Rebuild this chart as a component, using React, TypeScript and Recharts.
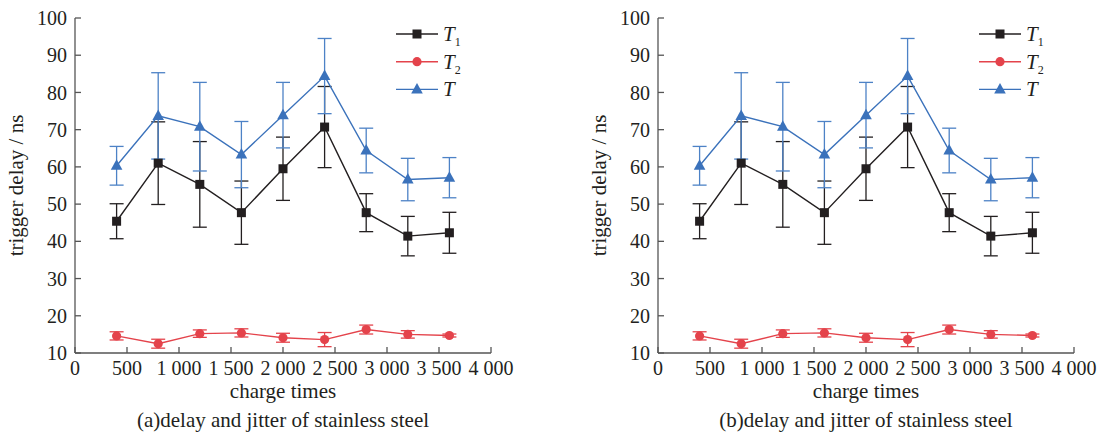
import React from 'react';
import { LineChart, Line, XAxis, YAxis, ErrorBar } from 'recharts';

const chargeTimes = [400, 800, 1200, 1600, 2000, 2400, 2800, 3200, 3600];
const t1Values = [45.4, 61.0, 55.3, 47.7, 59.5, 70.7, 47.7, 41.4, 42.3];
const t1Errors = [4.7, 11.1, 11.5, 8.5, 8.5, 10.9, 5.1, 5.3, 5.5];
const t2Values = [14.6, 12.5, 15.2, 15.4, 14.1, 13.6, 16.3, 15.0, 14.7];
const t2Errors = [1.1, 1.2, 1.0, 1.1, 1.2, 1.9, 1.2, 1.0, 0.4];
const tValues = [60.3, 73.7, 70.8, 63.3, 73.9, 84.4, 64.4, 56.6, 57.1];
const tErrors = [5.2, 11.6, 11.9, 8.9, 8.8, 10.1, 6.0, 5.7, 5.4];
const xTicks = [0, 500, 1000, 1500, 2000, 2500, 3000, 3500, 4000];
const yTicks = [10, 20, 30, 40, 50, 60, 70, 80, 90, 100];
const captions = ['(a)delay and jitter of stainless steel', '(b)delay and jitter of stainless steel'];

const BLACK = '#231f20';
const RED = '#e4434b';
const BLUE = '#3b72bb';
const BLUE_ERR = '#4d82c6';
const AXIS = '#555555';
const FONT = 'Liberation Serif, Times New Roman, serif';

const data = chargeTimes.map((x, i) => ({
  x,
  t1: t1Values[i],
  t1Err: t1Errors[i],
  t2: t2Values[i],
  t2Err: t2Errors[i],
  t: tValues[i],
  tErr: tErrors[i],
}));

const fmtX = (v: number) => {
  if (v < 1000) return String(v);
  return `${Math.floor(v / 1000)} ${String(v % 1000).padStart(3, '0')}`;
};

const SquareDot = (props: any) => {
  const { cx, cy, index } = props;
  if (cx == null || cy == null) return <g key={index} />;
  return <rect key={index} x={cx - 4.5} y={cy - 4.5} width={9} height={9} fill={BLACK} />;
};

const CircleDot = (props: any) => {
  const { cx, cy, index } = props;
  if (cx == null || cy == null) return <g key={index} />;
  return <circle key={index} cx={cx} cy={cy} r={4.6} fill={RED} />;
};

const TriDot = (props: any) => {
  const { cx, cy, index } = props;
  if (cx == null || cy == null) return <g key={index} />;
  return <path key={index} d={`M${cx},${cy - 6.5} L${cx + 5.8},${cy + 4} L${cx - 5.8},${cy + 4} Z`} fill={BLUE} />;
};

const XLabel = (props: any) => {
  const { viewBox, caption } = props;
  const cx = viewBox.x + viewBox.width / 2;
  return (
    <g fontFamily={FONT} fill={BLACK}>
      <text x={cx} y={viewBox.y + 44.5} textAnchor="middle" fontSize={21} fontFamily={FONT}>charge times</text>
      <text x={cx} y={viewBox.y + 73.5} textAnchor="middle" fontSize={21} fontFamily={FONT}>{caption}</text>
    </g>
  );
};

const YLabel = (props: any) => {
  const { viewBox } = props;
  const cy = viewBox.y + viewBox.height / 2;
  const x = 23;
  return (
    <text x={x} y={cy} transform={`rotate(-90, ${x}, ${cy})`} textAnchor="middle" fontSize={21}
      fontFamily={FONT} fill={BLACK}>
      trigger delay / ns
    </text>
  );
};

const LegendBox = () => {
  const rows = [
    { color: BLACK, sub: '1', kind: 'square' },
    { color: RED, sub: '2', kind: 'circle' },
    { color: BLUE, sub: '', kind: 'tri' },
  ];
  return (
    <svg width={100} height={90} style={{ position: 'absolute', left: 390, top: 16 }}>
      {rows.map((r, i) => {
        const y = 18 + i * 27.7;
        const mx = 27;
        return (
          <g key={i}>
            <line x1={6} x2={48} y1={y} y2={y} stroke={r.color} strokeWidth={1.4} />
            {r.kind === 'square' && <rect x={mx - 4.5} y={y - 4.5} width={9} height={9} fill={r.color} />}
            {r.kind === 'circle' && <circle cx={mx} cy={y} r={4.6} fill={r.color} />}
            {r.kind === 'tri' && <path d={`M${mx},${y - 6.5} L${mx + 5.8},${y + 4} L${mx - 5.8},${y + 4} Z`} fill={r.color} />}
            <text x={53} y={y + 7} fontSize={21} fill={BLACK} fontFamily={FONT}>
              <tspan fontStyle="italic">T</tspan>
              {r.sub && <tspan fontSize={12} dy={5}>{r.sub}</tspan>}
            </text>
          </g>
        );
      })}
    </svg>
  );
};

const Panel = ({ caption, left }: { caption: string; left: number }) => (
  <div style={{ position: 'absolute', left, top: 0, width: 540, height: 432 }}>
    <LineChart width={540} height={432} data={data} margin={{ top: 18, right: 49, left: 0, bottom: 0 }}
      style={{ fontFamily: FONT }}>
      <XAxis
        dataKey="x"
        type="number"
        domain={[0, 4000]}
        ticks={xTicks}
        tickFormatter={fmtX}
        interval={0}
        height={79}
        stroke={AXIS}
        strokeWidth={1.3}
        tickSize={-6}
        tickMargin={14}
        tick={{ fill: BLACK, fontSize: 20, fontFamily: FONT }}
        label={<XLabel caption={caption} />}
      />
      <YAxis
        type="number"
        domain={[10, 100]}
        ticks={yTicks}
        interval={0}
        width={75}
        stroke={AXIS}
        strokeWidth={1.3}
        tickSize={-6}
        tickMargin={14}
        tick={{ fill: BLACK, fontSize: 20, fontFamily: FONT }}
        label={<YLabel />}
      />
      <Line dataKey="t1" stroke={BLACK} strokeWidth={1.4} dot={SquareDot} activeDot={false} isAnimationActive={false}>
        <ErrorBar dataKey="t1Err" direction="y" width={7} stroke={BLACK} strokeWidth={1.3} />
      </Line>
      <Line dataKey="t2" stroke={RED} strokeWidth={1.4} dot={CircleDot} activeDot={false} isAnimationActive={false}>
        <ErrorBar dataKey="t2Err" direction="y" width={7} stroke={RED} strokeWidth={1.3} />
      </Line>
      <Line dataKey="t" stroke={BLUE} strokeWidth={1.4} dot={TriDot} activeDot={false} isAnimationActive={false}>
        <ErrorBar dataKey="tErr" direction="y" width={7} stroke={BLUE_ERR} strokeWidth={1.3} />
      </Line>
    </LineChart>
    <LegendBox />
  </div>
);

export default function App() {
  return (
    <div style={{ position: 'absolute', left: 0, top: 0, width: 1103, height: 432, background: '#fff', fontFamily: FONT }}>
      <Panel caption={captions[0]} left={0} />
      <Panel caption={captions[1]} left={582.5} />
    </div>
  );
}
